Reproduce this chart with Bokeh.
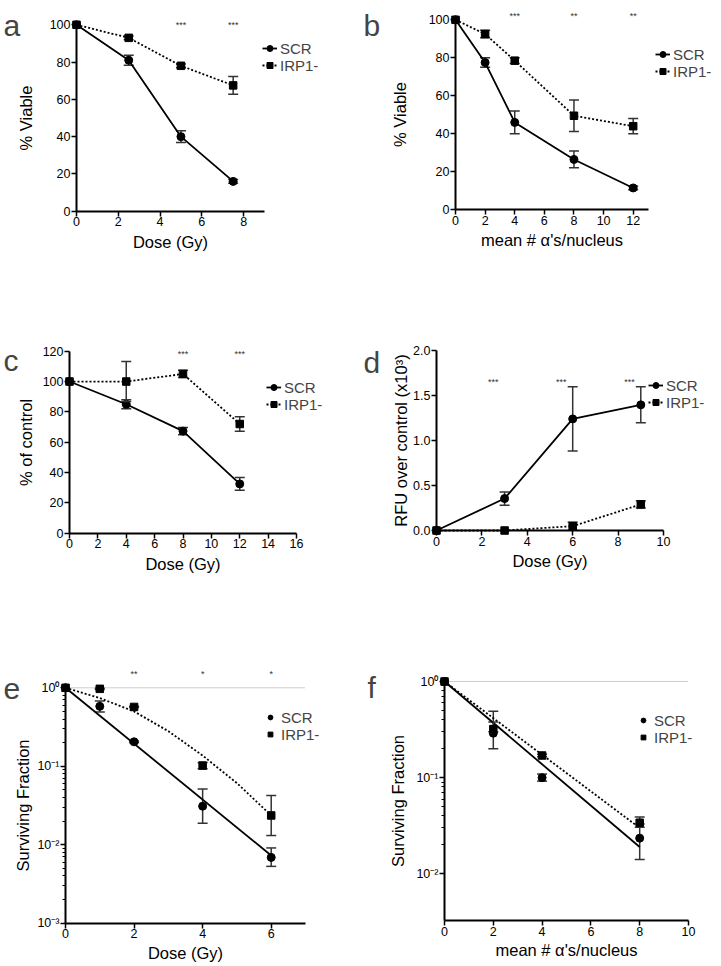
import math
from bokeh.plotting import figure
from bokeh.models import Range1d, FixedTicker, Label, Legend, LegendItem
from bokeh.layouts import column, row
from bokeh.embed import file_html
from bokeh.resources import INLINE

FONT = "Liberation Sans"

# ---------------- data ----------------
# panel a
a_dose = [0, 2.5, 5, 7.5]
a_scr = [100, 81, 40, 16]
a_scr_err = [0, 2.7, 3.1, 1]
a_irp = [100, 93, 78, 67.5]
a_irp_err = [0, 1, 1, 4.8]
a_star_x = [5, 7.5]
a_star_txt = ["***", "***"]
a_star_y = 100.8
a_xticks = [0, 2, 4, 6, 8]
a_yticks = [0, 20, 40, 60, 80, 100]

# panel b
b_mean = [0, 2, 4, 8, 12]
b_scr = [100, 77.5, 46, 26.5, 11.5]
b_scr_err = [0, 2.5, 6, 4.4, 1]
b_irp = [100, 92.5, 78.5, 49.5, 44]
b_irp_err = [0, 2, 1.5, 8.3, 4]
b_star_x = [4, 8, 12]
b_star_txt = ["***", "**", "**"]
b_star_y = 103.2
b_xticks = [0, 2, 4, 6, 8, 10, 12]
b_yticks = [0, 20, 40, 60, 80, 100]

# panel c
c_dose = [0, 4, 8, 12]
c_scr = [100, 85, 67.3, 32.5]
c_scr_err = [0, 3, 2.4, 4.2]
c_irp = [100, 100, 105, 72]
c_irp_err = [0, 13.2, 2.4, 4.7]
c_star_x = [8, 12]
c_star_txt = ["***", "***"]
c_star_y = 119.3
c_xticks = [0, 2, 4, 6, 8, 10, 12, 14, 16]
c_yticks = [0, 20, 40, 60, 80, 100, 120]

# panel d
d_dose = [0, 3, 6, 9]
d_scr = [0, 0.355, 1.24, 1.396]
d_scr_err = [0, 0.074, 0.356, 0.2]
d_irp = [0, 0, 0.048, 0.29]
d_irp_err = [0, 0, 0.045, 0.04]
d_star_x = [2.5, 5.5, 8.5]
d_star_txt = ["***", "***", "***"]
d_star_y = 1.67
d_xticks = [0, 2, 4, 6, 8, 10]
d_yticks = [0, 0.5, 1, 1.5, 2]
d_ytick_labels = ["0.0", "0.5", "1.0", "1.5", "2.0"]

# panel e (log)
e_dose = [0, 1, 2, 4, 6]
e_scr = [1.0, 0.58, 0.205, 0.031, 0.0069]
e_scr_lo = [1.0, 0.49, 0.20, 0.0188, 0.0053]
e_scr_hi = [1.0, 0.68, 0.21, 0.0515, 0.0091]
e_irp = [1.0, 0.97, 0.57, 0.102, 0.0236]
e_irp_lo = [1.0, 0.95, 0.56, 0.093, 0.0131]
e_irp_hi = [1.0, 0.99, 0.58, 0.112, 0.0424]
e_scr_fit_x = [0, 6]
e_scr_fit_y = [1.0, 0.0073]
e_irp_fit_x = [0, 1, 2, 3, 4, 5, 6]
e_irp_fit_y = [1.0, 0.74, 0.50, 0.28, 0.137, 0.061, 0.0236]
e_star_x = [2, 4, 6]
e_star_txt = ["**", "*", "*"]
e_star_y = 1.58
e_xticks = [0, 2, 4, 6]
e_yticks = [1, 0.1, 0.01, 0.001]
e_ytick_labels = ["10\u2070", "10\u207b\u00b9", "10\u207b\u00b2", "10\u207b\u00b3"]
e_minor_decades = [-3, -2, -1]

# panel f (log)
f_mean = [0, 2, 4, 8]
f_scr = [1.0, 0.29, 0.10, 0.0235]
f_scr_lo = [1.0, 0.20, 0.092, 0.0141]
f_scr_hi = [1.0, 0.38, 0.109, 0.033]
f_irp = [1.0, 0.32, 0.17, 0.034]
f_irp_lo = [1.0, 0.30, 0.165, 0.0305]
f_irp_hi = [1.0, 0.49, 0.175, 0.039]
f_scr_fit_x = [0, 8]
f_scr_fit_y = [1.0, 0.019]
f_irp_fit_x = [0, 8]
f_irp_fit_y = [1.0, 0.030]
f_xticks = [0, 2, 4, 6, 8, 10]
f_yticks = [1, 0.1, 0.01]
f_ytick_labels = ["10\u2070", "10\u207b\u00b9", "10\u207b\u00b2"]
f_minor_decades = [-2, -1]

SERIES = ["SCR", "IRP1-"]
DOSE = "Dose (Gy)"
MEAN = "mean # \u03b1's/nucleus"


# ---------------- helpers ----------------
class Panel:
    def __init__(self, box, xlim, x_px, ylim, y_px, log=False):
        L, T, W, H = box
        self.box = box
        self.log = log
        self.ux = (xlim[1] - xlim[0]) / (x_px[1] - x_px[0])
        self.x0, self.px0 = xlim[0], x_px[0]
        if log:
            l0, l1 = math.log10(ylim[0]), math.log10(ylim[1])
        else:
            l0, l1 = ylim
        self.uy = (l1 - l0) / (y_px[0] - y_px[1])
        self.l0, self.py0 = l0, y_px[0]
        xs, ye = self.data(L, T)
        xe, ys = self.data(L + W, T + H)
        p = figure(width=W, height=H, x_range=Range1d(xs, xe), y_range=Range1d(ys, ye),
                   y_axis_type="log" if log else "linear",
                   output_backend="svg", toolbar_location=None,
                   min_border_left=0, min_border_right=0, min_border_top=0, min_border_bottom=0)
        p.outline_line_color = None
        p.xgrid.visible = False
        p.ygrid.visible = False
        p.background_fill_color = "white"
        p.border_fill_color = "white"
        for ax in (p.xaxis[0], p.yaxis[0]):
            ax.axis_line_width = 2
            ax.axis_line_color = "black"
            ax.major_tick_line_width = 1.5
            ax.major_tick_line_color = "black"
            ax.major_tick_out = 5
            ax.major_tick_in = 0
            ax.minor_tick_line_color = None
            ax.major_label_text_font = FONT
            ax.major_label_text_font_size = "12.5px"
            ax.major_label_text_color = "black"
            ax.major_label_standoff = 1
            ax.axis_label_text_font = FONT
            ax.axis_label_text_font_size = "16.5px"
            ax.axis_label_text_font_style = "normal"
            ax.axis_label_text_color = "black"
        p.xaxis.fixed_location = ylim[0]
        p.yaxis.fixed_location = xlim[0]
        p.xaxis.bounds = xlim
        p.yaxis.bounds = ylim
        self.p = p

    def data(self, px, py):
        x = self.x0 + (px - self.px0) * self.ux
        y = self.l0 + (self.py0 - py) * self.uy
        if self.log:
            y = 10 ** y
        return x, y

    def errbars(self, x, lo, hi):
        xs, l2, h2 = [], [], []
        for xi, a, b in zip(x, lo, hi):
            if abs(b - a) > 1e-12:
                xs.append(xi); l2.append(a); h2.append(b)
        if xs:
            self.p.segment(x0=xs, y0=l2, x1=xs, y1=h2, line_color="#333333", line_width=1.5)
            self.p.scatter(x=xs + xs, y=l2 + h2, marker="dash", size=10,
                           line_color="#333333", line_width=1.5)

    def series(self, x, y, lo, hi, marker, dash, fx=None, fy=None):
        self.errbars(x, lo, hi)
        lx, ly = (x, y) if fx is None else (fx, fy)
        ln = self.p.line(x=lx, y=ly, line_color="black", line_width=1.8, line_dash=dash)
        sz = 8 if marker == "circle" else 7.5
        mk = self.p.scatter(x=x, y=y, marker=marker, size=sz, fill_color="black", line_color="black")
        return ln, mk

    def legend(self, items, gx, r1, glyph_w, standoff):
        L, T, W, H = self.box
        top = r1 - 8.5
        lh = 34
        leg = Legend(items=[LegendItem(label=lab, renderers=rs) for lab, rs in items],
                     location=(gx - L, (T + H) - (top + lh)),
                     border_line_color=None, background_fill_alpha=0,
                     padding=0, margin=0, spacing=0,
                     label_text_font=FONT, label_text_font_size="15px",
                     label_height=16, glyph_height=16, glyph_width=glyph_w,
                     label_standoff=standoff)
        self.p.add_layout(leg)

    def letter(self, txt, px, baseline):
        x, y = self.data(px, baseline)
        self.p.add_layout(Label(x=x, y=y, text=txt, text_font=FONT, text_font_size="30px",
                                text_baseline="alphabetic", text_align="left"))

    def stars(self, xs, txts, y):
        for xi, t in zip(xs, txts):
            self.p.add_layout(Label(x=xi, y=y, text=t, text_font=FONT, text_font_size="9px",
                                    text_align="center", text_baseline="middle", y_offset=-2,
                                    text_color="#333333"))

    def log_minor(self, decades):
        ax = self.p.yaxis[0]
        ax.ticker.minor_ticks = [m * 10.0 ** k for k in decades for m in range(2, 10)]
        ax.minor_tick_line_color = "black"
        ax.minor_tick_line_width = 1.2
        ax.minor_tick_out = 3
        ax.minor_tick_in = 0


def sym(y, e, sgn):
    return [v + sgn * d for v, d in zip(y, e)]


# ---------------- panel a ----------------
A = Panel((0, 0, 360, 300), (0, 9), (76, 264), (0, 100), (210.7, 24.3))
pa = A.p
pa.xaxis.ticker = FixedTicker(ticks=a_xticks, minor_ticks=[])
pa.yaxis.ticker = FixedTicker(ticks=a_yticks, minor_ticks=[])
pa.xaxis.axis_label = DOSE
pa.yaxis.axis_label = "% Viable"
pa.xaxis.axis_label_standoff = 3
pa.yaxis.axis_label_standoff = 12
s1 = A.series(a_dose, a_scr, sym(a_scr, a_scr_err, -1), sym(a_scr, a_scr_err, 1), "circle", "solid")
s2 = A.series(a_dose, a_irp, sym(a_irp, a_irp_err, -1), sym(a_irp, a_irp_err, 1), "square", "2 2")
A.stars(a_star_x, a_star_txt, a_star_y)
A.legend([(SERIES[0], list(s1)), (SERIES[1], list(s2))], 262, 48.3, 15, 3)
A.letter("a", 3, 25)

# ---------------- panel b ----------------
B = Panel((360, 0, 361, 300), (0, 13), (455, 647.5), (0, 100), (209.3, 19.3))
pb = B.p
pb.xaxis.ticker = FixedTicker(ticks=b_xticks, minor_ticks=[])
pb.yaxis.ticker = FixedTicker(ticks=b_yticks, minor_ticks=[])
pb.xaxis.axis_label = MEAN
pb.yaxis.axis_label = "% Viable"
pb.xaxis.axis_label_standoff = 3
pb.yaxis.axis_label_standoff = 17
s1 = B.series(b_mean, b_scr, sym(b_scr, b_scr_err, -1), sym(b_scr, b_scr_err, 1), "circle", "solid")
s2 = B.series(b_mean, b_irp, sym(b_irp, b_irp_err, -1), sym(b_irp, b_irp_err, 1), "square", "2 2")
B.stars(b_star_x, b_star_txt, b_star_y)
B.legend([(SERIES[0], list(s1)), (SERIES[1], list(s2))], 655, 54.3, 15, 3)
B.letter("b", 363, 25)

# ---------------- panel c ----------------
C = Panel((0, 300, 360, 330), (0, 16), (69, 296), (0, 120), (532.7, 350.7))
pc = C.p
pc.xaxis.ticker = FixedTicker(ticks=c_xticks, minor_ticks=[])
pc.yaxis.ticker = FixedTicker(ticks=c_yticks, minor_ticks=[])
pc.xaxis.axis_label = DOSE
pc.yaxis.axis_label = "% of control"
pc.xaxis.axis_label_standoff = 3
pc.yaxis.axis_label_standoff = 5
s1 = C.series(c_dose, c_scr, sym(c_scr, c_scr_err, -1), sym(c_scr, c_scr_err, 1), "circle", "solid")
s2 = C.series(c_dose, c_irp, sym(c_irp, c_irp_err, -1), sym(c_irp, c_irp_err, 1), "square", "2 2")
C.stars(c_star_x, c_star_txt, c_star_y)
C.legend([(SERIES[0], list(s1)), (SERIES[1], list(s2))], 266, 387.3, 15, 3)
C.letter("c", 3, 360)

# ---------------- panel d ----------------
D = Panel((360, 300, 361, 330), (0, 10), (436, 663), (0, 2), (530, 350))
pd_ = D.p
pd_.xaxis.ticker = FixedTicker(ticks=d_xticks, minor_ticks=[])
pd_.yaxis.ticker = FixedTicker(ticks=d_yticks, minor_ticks=[])
pd_.yaxis.major_label_overrides = dict(zip(d_yticks, d_ytick_labels))
pd_.xaxis.axis_label = DOSE
pd_.yaxis.axis_label = "RFU over control (x10\u00b3)"
pd_.xaxis.axis_label_standoff = 3
pd_.yaxis.axis_label_standoff = 0
s1 = D.series(d_dose, d_scr, sym(d_scr, d_scr_err, -1), sym(d_scr, d_scr_err, 1), "circle", "solid")
s2 = D.series(d_dose, d_irp, sym(d_irp, d_irp_err, -1), sym(d_irp, d_irp_err, 1), "square", "2 2")
D.stars(d_star_x, d_star_txt, d_star_y)
D.legend([(SERIES[0], list(s1)), (SERIES[1], list(s2))], 648, 385, 15, 3)
D.letter("d", 363, 362)

# ---------------- panel e ----------------
E = Panel((0, 630, 360, 336), (0, 7), (65, 305), (0.001, 1), (922.7, 687.3), log=True)
pe = E.p
pe.xaxis.ticker = FixedTicker(ticks=e_xticks, minor_ticks=[])
pe.yaxis.ticker = FixedTicker(ticks=e_yticks, minor_ticks=[])
E.log_minor(e_minor_decades)
pe.yaxis.major_label_overrides = dict(zip(e_yticks, e_ytick_labels))
pe.xaxis.axis_label = DOSE
pe.yaxis.axis_label = "Surviving Fraction"
pe.xaxis.axis_label_standoff = 2
pe.yaxis.axis_label_standoff = 2
pe.line(x=[0, 7], y=[1, 1], line_color="#9a9a9a", line_width=1, line_dash="1 1")
s1 = E.series(e_dose, e_scr, e_scr_lo, e_scr_hi, "circle", "solid", e_scr_fit_x, e_scr_fit_y)
s2 = E.series(e_dose, e_irp, e_irp_lo, e_irp_hi, "square", "2 2", e_irp_fit_x, e_irp_fit_y)
E.stars(e_star_x, e_star_txt, e_star_y)
E.legend([(SERIES[0], [s1[1]]), (SERIES[1], [s2[1]])], 264, 717.3, 12, 5)
E.letter("e", 3, 688)

# ---------------- panel f ----------------
F = Panel((360, 630, 361, 336), (0, 10), (444, 688), (10 ** -2.485, 1), (920, 681), log=True)
pf = F.p
pf.xaxis.ticker = FixedTicker(ticks=f_xticks, minor_ticks=[])
pf.yaxis.ticker = FixedTicker(ticks=f_yticks, minor_ticks=[])
F.log_minor(f_minor_decades)
pf.yaxis.major_label_overrides = dict(zip(f_yticks, f_ytick_labels))
pf.xaxis.axis_label = MEAN
pf.yaxis.axis_label = "Surviving Fraction"
pf.xaxis.axis_label_standoff = 2
pf.yaxis.axis_label_standoff = 6
pf.line(x=[0, 10], y=[1, 1], line_color="#9a9a9a", line_width=1, line_dash="1 1")
s1 = F.series(f_mean, f_scr, f_scr_lo, f_scr_hi, "circle", "solid", f_scr_fit_x, f_scr_fit_y)
s2 = F.series(f_mean, f_irp, f_irp_lo, f_irp_hi, "square", "2 2", f_irp_fit_x, f_irp_fit_y)
F.legend([(SERIES[0], [s1[1]]), (SERIES[1], [s2[1]])], 637, 720, 12, 5)
F.letter("f", 367, 687)

layout = column(row(pa, pb), row(pc, pd_), row(pe, pf))
open("out.html", "w").write(file_html(layout, INLINE))
